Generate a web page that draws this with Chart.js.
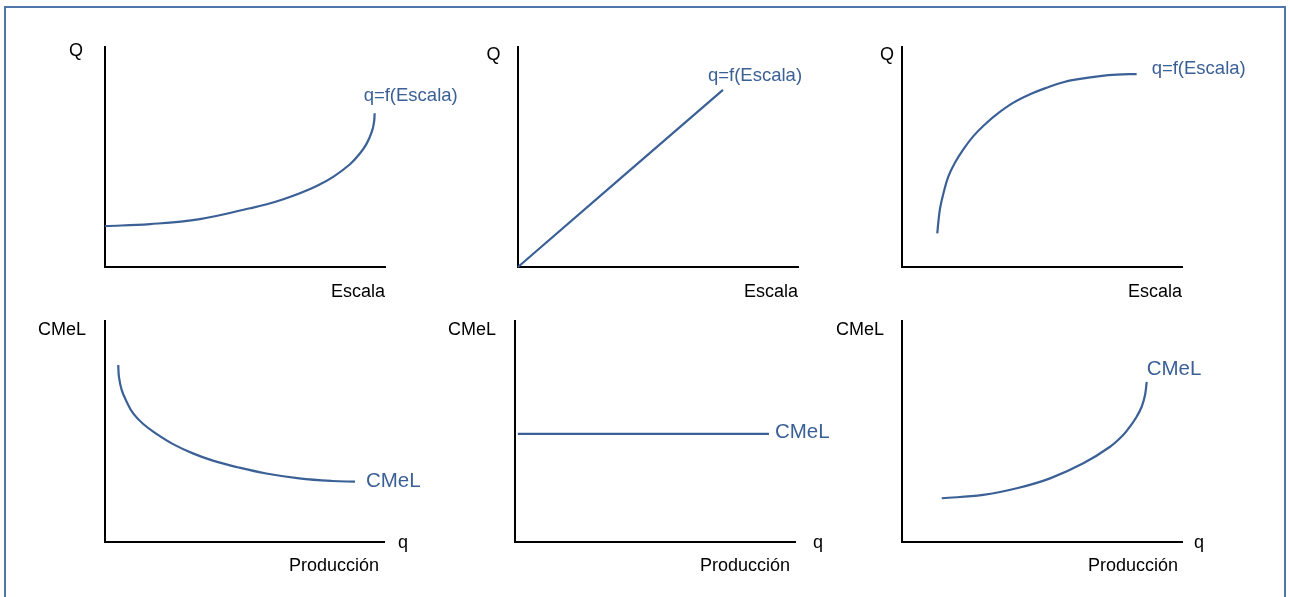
<!DOCTYPE html>
<html><head><meta charset="utf-8">
<script src="https://cdn.jsdelivr.net/npm/chart.js@4.4.1/dist/chart.umd.min.js"></script>
<style>
html,body{margin:0;padding:0;background:#fff;width:1290px;height:597px;overflow:hidden;}
#frame{position:absolute;left:4px;top:6px;width:1282px;height:640px;border:2px solid #4f76ab;box-sizing:border-box;}
canvas{position:absolute;left:0;top:0;}
</style></head><body>
<div id="frame"></div>
<canvas id="c0" width="1290" height="597"></canvas>
<canvas id="c1" width="1290" height="597"></canvas>
<canvas id="c2" width="1290" height="597"></canvas>
<canvas id="c3" width="1290" height="597"></canvas>
<canvas id="c4" width="1290" height="597"></canvas>
<canvas id="c5" width="1290" height="597"></canvas>
<script>
// ---- Data (axes run 0..10 in every panel) ----
const crecientesX = [0.00, 1.61, 3.39, 5.18, 5.78, 6.37, 6.96, 7.56, 8.15, 8.75, 9.11, 9.35, 9.53, 9.61, 9.63];
const crecientesY = [1.86, 1.95, 2.18, 2.67, 2.85, 3.08, 3.35, 3.68, 4.10, 4.67, 5.17, 5.62, 6.15, 6.60, 6.99];
const constantesX = [0.0, 7.32];
const constantesY = [0.0, 8.05];
const decrecientesX = [1.26, 1.30, 1.36, 1.48, 1.65, 1.89, 2.19, 2.55, 2.96, 3.38, 3.98, 4.57, 5.17, 5.76, 6.36, 7.07, 7.67, 8.38];
const decrecientesY = [1.53, 2.06, 2.67, 3.35, 4.10, 4.74, 5.35, 5.95, 6.48, 6.94, 7.47, 7.85, 8.15, 8.40, 8.55, 8.68, 8.745, 8.77];
const cmelDecrecienteX = [0.475, 0.50, 0.60, 0.775, 1.01, 1.37, 1.85, 2.44, 3.15, 3.87, 4.76, 5.78, 6.96, 8.14, 8.96];
const cmelDecrecienteY = [8.01, 7.47, 6.87, 6.35, 5.82, 5.34, 4.89, 4.43, 4.01, 3.68, 3.38, 3.10, 2.88, 2.76, 2.73];
const cmelConstanteX = [0.1, 9.07];
const cmelConstanteY = [4.89, 4.89];
const cmelCrecienteX = [1.42, 2.90, 4.10, 5.29, 6.475, 7.43, 7.90, 8.14, 8.38, 8.56, 8.68, 8.74];
const cmelCrecienteY = [1.98, 2.13, 2.43, 2.88, 3.56, 4.31, 4.84, 5.22, 5.67, 6.12, 6.65, 7.25];

const yAxisLabels = ['Q', 'Q', 'Q', 'CMeL', 'CMeL', 'CMeL'];
const xAxisLabels = ['Escala', 'Escala', 'Escala', 'Producción', 'Producción', 'Producción'];
const xAxisSymbols = ['', '', '', 'q', 'q', 'q'];
const curveLabels = ['q=f(Escala)', 'q=f(Escala)', 'q=f(Escala)', 'CMeL', 'CMeL', 'CMeL'];

// ---- Layout / style ----
const BLUE = '#3b6096';
const FONT = '"Liberation Sans", Arial, sans-serif';
const areas = [
  {left:105, top:47, right:385, bottom:267},
  {left:518, top:47, right:798, bottom:267},
  {left:902, top:47, right:1182, bottom:267},
  {left:105, top:321, right:384, bottom:542},
  {left:515, top:321, right:795, bottom:542},
  {left:902, top:321, right:1182, bottom:542}
];
// offsets relative to chart area
const yLabelPos = [{dx:-29, dy:9}, {dx:-24.5, dy:13}, {dx:-15, dy:13}, {dx:-43, dy:14}, {dx:-43, dy:14}, {dx:-42, dy:14}];
const xLabelPos = [{dx:0, dy:30}, {dx:0, dy:30}, {dx:0, dy:30}, {dx:-5, dy:29}, {dx:-5, dy:29}, {dx:-4, dy:29}];
const symPos = [null, null, null, {dx:19, dy:6}, {dx:23, dy:6}, {dx:17, dy:6}];
// curve label offsets relative to last point
const curveLabelPos = [{dx:-11, dy:-12, size:18.5}, {dx:-15, dy:-9, size:18.5}, {dx:15, dy:0, size:18.5},
                       {dx:11, dy:5, size:20.5}, {dx:6, dy:4.5, size:20.5}, {dx:0, dy:-6.5, size:20.5}];

const seriesX = [crecientesX, constantesX, decrecientesX, cmelDecrecienteX, cmelConstanteX, cmelCrecienteX];
const seriesY = [crecientesY, constantesY, decrecientesY, cmelDecrecienteY, cmelConstanteY, cmelCrecienteY];

const textPlugin = {
  id: 'panelTexts',
  afterDraw(chart, args, opts) {
    const ctx = chart.ctx, ca = chart.chartArea, i = opts.index;
    ctx.save();
    ctx.textBaseline = 'alphabetic';
    ctx.fillStyle = '#000';
    ctx.font = '18px ' + FONT;
    ctx.textAlign = 'center';
    ctx.fillText(yAxisLabels[i], ca.left + yLabelPos[i].dx, ca.top + yLabelPos[i].dy);
    ctx.textAlign = 'right';
    ctx.fillText(xAxisLabels[i], ca.right + xLabelPos[i].dx, ca.bottom + xLabelPos[i].dy);
    if (xAxisSymbols[i]) {
      ctx.textAlign = 'center';
      ctx.fillText(xAxisSymbols[i], ca.right + symPos[i].dx, ca.bottom + symPos[i].dy);
    }
    const meta = chart.getDatasetMeta(0);
    const last = meta.data[meta.data.length - 1];
    const cp = curveLabelPos[i];
    ctx.fillStyle = BLUE;
    ctx.font = cp.size + 'px ' + FONT;
    ctx.textAlign = 'left';
    ctx.fillText(curveLabels[i], last.x + cp.dx, last.y + cp.dy);
    ctx.restore();
  }
};

for (let i = 0; i < 6; i++) {
  const a = areas[i];
  const pts = seriesX[i].map((x, k) => ({x: x, y: seriesY[i][k]}));
  new Chart(document.getElementById('c' + i), {
    type: 'line',
    data: { datasets: [{
      data: pts,
      borderColor: BLUE,
      borderWidth: 2.2,
      pointRadius: 0,
      fill: false,
      tension: 0.4,
      clip: false
    }]},
    options: {
      responsive: false,
      animation: false,
      events: [],
      layout: { padding: { left: a.left, top: a.top, right: 1290 - a.right, bottom: 597 - a.bottom } },
      plugins: { legend: {display: false}, tooltip: {enabled: false}, title: {display: false}, panelTexts: { index: i } },
      scales: {
        x: {
          type: 'linear', min: 0, max: 10, position: 'bottom',
          grid: {display: false, drawTicks: false},
          ticks: {display: false},
          border: {display: true, color: '#000', width: 2},
          afterFit(s) { s.height = 0; }
        },
        y: {
          type: 'linear', min: 0, max: 10, position: 'left',
          grid: {display: false, drawTicks: false},
          ticks: {display: false},
          border: {display: true, color: '#000', width: 2},
          afterFit(s) { s.width = 0; }
        }
      }
    },
    plugins: [textPlugin]
  });
}
</script>
</body></html>
